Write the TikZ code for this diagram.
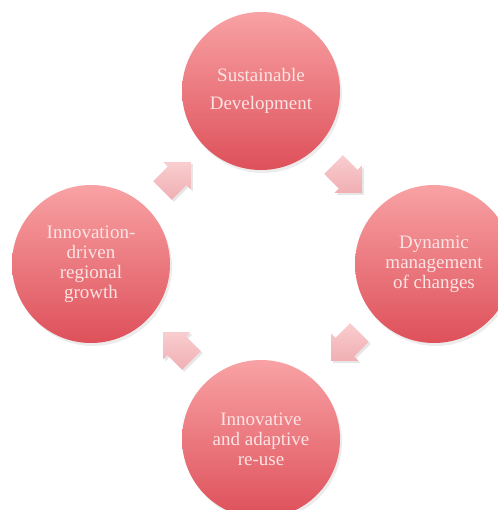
\documentclass[tikz,border=0pt]{standalone}
\usepackage{fontspec}
\setmainfont{Liberation Serif}
\usepackage{tikz}
\usetikzlibrary{shapes,arrows,positioning,shadows}
\definecolor{ctop}{RGB}{248, 162, 164}
\definecolor{cbot}{RGB}{222, 80, 90}
\definecolor{atop}{RGB}{249, 205, 207}
\definecolor{abot}{RGB}{240, 175, 179}
\definecolor{ctext}{RGB}{252, 228, 228}
\tikzstyle{stage} = [circle, draw=none, top color=ctop, bottom color=cbot, text=ctext, align=center, font=\fontsize{19}{20}\selectfont, minimum size = 158pt, inner sep=0pt, drop shadow={opacity=0.15, shadow xshift=2pt, shadow yshift=-3pt}]
\tikzstyle{flow} = [single arrow, draw=none, top color=atop, bottom color=abot, minimum height = 40pt, inner sep=13pt, single arrow head extend = 6pt, drop shadow={opacity=0.2, shadow xshift=2pt, shadow yshift=-2pt}]

\begin{document}
\begin{tikzpicture}[x=1pt, y=-1pt]
\useasboundingbox (0,0) rectangle (497,510);
%image
\node[stage, font=\fontsize{19}{28}\selectfont] (sustain) at (261,91) {Sustainable\\Development};
\node[stage] (dynamic) at (434,264) {Dynamic\\management\\of changes};
\node[stage] (reuse) at (261,439) {Innovative\\and adaptive\\re-use};
\node[stage] (growth) at (91,264) {Innovation-\\driven\\regional\\growth};

%arrows
\node[flow, rotate=-45] (a1) at (343,174) {};
\node[flow, rotate=-135] (a2) at (350,342) {};
\node[flow, rotate=135] (a3) at (182,351) {};
\node[flow, rotate=45] (a4) at (172,181) {};

\end{tikzpicture}
\end{document}
